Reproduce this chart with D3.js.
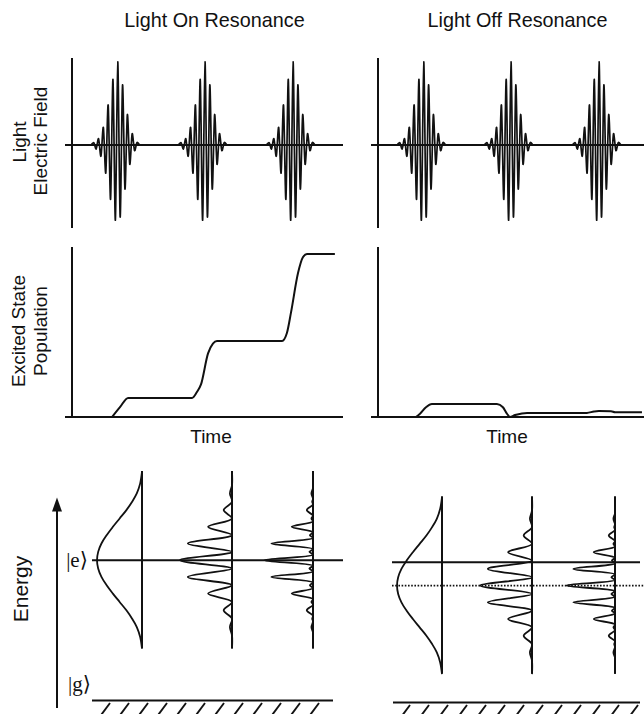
<!DOCTYPE html>
<html><head><meta charset="utf-8">
<script src="https://cdn.jsdelivr.net/npm/d3@7"></script>
<style>body{margin:0;background:#fff}svg{display:block}</style>
</head><body>
<svg id="c" width="644" height="714"></svg>
<script>
// ---------- data ----------
const panelTitles = ["Light On Resonance", "Light Off Resonance"];
const fieldLabel = ["Light", "Electric Field"];
const popLabel = ["Excited State", "Population"];
const timeLabel = "Time";
const energyLabel = "Energy";
const ketE = "|e\u27E9";
const ketG = "|g\u27E9";

// three light pulses (time units 0-100)
const pulseCenters = [16, 48.2, 80.7];
// successive oscillation lobe amplitudes of one pulse (field units, -1..1)
const pulseLobes = [0.03, -0.05, 0.08, -0.14, 0.22, -0.35, 0.5, -0.68, 0.82, -0.94,
                    1.04, -0.9, 0.75, -0.55, 0.38, -0.24, 0.14, -0.07, 0.03];
const lobeStep = 0.885;

// excited-state population vs time
const popOnT = [14.8, 17.7, 20.7, 44.3, 46.1, 47.6, 50.2, 52.0, 53.5, 77.5, 79.3, 80.8, 83.4, 85.2, 86.7, 97];
const popOnV = [0, 0.06, 0.117, 0.117, 0.153, 0.2, 0.39, 0.45, 0.466, 0.466, 0.515, 0.64, 0.883, 0.98, 1.0, 1.0];
const popOffT = [14.0, 15.5, 17.7, 19.9, 43.9, 46.1, 47.6, 48.7, 50.6, 53.1, 55.0, 77.1, 79.7, 81.5, 86.0, 87.5, 97.4];
const popOffV = [0, 0.02, 0.06, 0.08, 0.08, 0.06, 0.02, 0, 0.012, 0.022, 0.025, 0.025, 0.034, 0.037, 0.036, 0.029, 0.029];

// energy levels (energy units) and light centre energy per panel
const levelE = 8.4, levelG = 0;
const lightEnergy = [8.4, 7.0];

// spectra: offset from light centre energy, relative amplitude
const gaussOff = [-5.3, -4.6, -4.0, -3.5, -3.0, -2.5, -2.0, -1.5, -1.0, -0.5, 0, 0.5, 1.0, 1.5, 2.0, 2.5, 3.0, 3.5, 4.0, 4.6, 5.3];
const gaussVal = [0, 0.035, 0.1, 0.19, 0.3, 0.43, 0.56, 0.68, 0.78, 0.843, 0.865, 0.843, 0.78, 0.68, 0.56, 0.43, 0.3, 0.19, 0.1, 0.035, 0];
const spec2Off = [-5.3, -4.5, -4, -3.5, -3, -2.5, -2, -1.5, -1, -0.5, 0, 0.5, 1, 1.5, 2, 2.5, 3, 3.5, 4, 4.5, 5.3];
const spec2Val = [0, 0, 0.04, 0, 0.16, 0, 0.46, 0, 0.85, 0, 1.0, 0, 0.85, 0, 0.46, 0, 0.16, 0, 0.04, 0, 0];
const spec3Off = [-5.3, -4.6, -4.33, -4, -3.67, -3.5, -3.33, -3, -2.67, -2.5, -2.33, -2, -1.67, -1.5, -1.33, -1, -0.67, -0.5, -0.33, 0,
                  0.33, 0.5, 0.67, 1, 1.33, 1.5, 1.67, 2, 2.33, 2.5, 2.67, 3, 3.33, 3.5, 3.67, 4, 4.33, 4.6, 5.3];
const spec3Val = [0, 0, 0, 0.03, 0, 0.015, 0, 0.12, 0, 0.03, 0, 0.41, 0, 0.06, 0, 0.8, 0, 0.07, 0, 0.94,
                  0, 0.07, 0, 0.8, 0, 0.06, 0, 0.41, 0, 0.03, 0, 0.12, 0, 0.015, 0, 0.03, 0, 0, 0];

// ---------- layout ----------
const INK = "#111";
const FONT = "'Liberation Sans', Arial, Helvetica, sans-serif";
const SERIF = "'Liberation Serif', 'DejaVu Serif', serif";
const svg = d3.select("#c");

const xT = d3.scaleLinear().domain([0, 100]).range([0, 271]);
const yField = d3.scaleLinear().domain([-1, 1]).range([225, 65]);
const yPop = d3.scaleLinear().domain([0, 1]).range([417, 254]);
const yEn = d3.scaleLinear().domain([0, 10]).range([700.5, 533.5]);
const xAmp = d3.scaleLinear().domain([0, 1]).range([0, 52]);

const panels = [
  {x0: 72, title: panelTitles[0], titleX: 142.5, timeX: 139, popT: popOnT, popV: popOnV, lightE: lightEnergy[0],
   cols: [70, 160, 241], eLine: [20, 271], dotted: false, dy: 0, ground: [20, 261], hatch0: 38},
  {x0: 378, title: panelTitles[1], titleX: 139.5, timeX: 129, popT: popOffT, popV: popOffV, lightE: lightEnergy[1],
   cols: [64, 154, 237], eLine: [14, 262], dotted: true, dy: 2, ground: [15, 262], hatch0: 32}
];
const spectra = [[gaussOff, gaussVal], [spec2Off, spec2Val], [spec3Off, spec3Val]];

function line(g, x1, y1, x2, y2, w = 2) {
  g.append("line").attr("x1", x1).attr("y1", y1).attr("x2", x2).attr("y2", y2)
    .attr("stroke", INK).attr("stroke-width", w);
}

panels.forEach((p, pi) => {
  const g = svg.append("g").attr("transform", `translate(${p.x0},0)`);
  // title
  g.append("text").attr("x", p.titleX).attr("y", 27).attr("text-anchor", "middle")
    .attr("font-family", FONT).attr("font-size", 19.8).attr("fill", INK).text(p.title);

  // --- top: light electric field
  line(g, 0, 58, 0, 228);
  line(g, -7, yField(0), xT(100), yField(0));
  const fieldLine = d3.line().x(d => xT(d[0])).y(d => yField(d[1])).curve(d3.curveCardinal.tension(0.2));
  pulseCenters.forEach(c => {
    const n = pulseLobes.length, mid = (n - 1) / 2;
    const pts = [[c - (mid + 2.5) * lobeStep, 0], [c - (mid + 1.2) * lobeStep, 0]];
    pulseLobes.forEach((a, i) => pts.push([c + (i - mid) * lobeStep, a]));
    pts.push([c + (mid + 1.2) * lobeStep, 0], [c + (mid + 2.5) * lobeStep, 0]);
    g.append("path").attr("d", fieldLine(pts)).attr("fill", "none").attr("stroke", INK).attr("stroke-width", 1.7);
  });

  // --- middle: population
  line(g, 0, 247, 0, yPop(0));
  line(g, -7, yPop(0), xT(100), yPop(0));
  const popLine = d3.line().x(d => xT(d[0])).y(d => yPop(d[1])).curve(d3.curveMonotoneX);
  g.append("path").attr("d", popLine(p.popT.map((t, i) => [t, p.popV[i]])))
    .attr("fill", "none").attr("stroke", INK).attr("stroke-width", 2);
  g.append("text").attr("x", p.timeX).attr("y", 443).attr("text-anchor", "middle")
    .attr("font-family", FONT).attr("font-size", 19).attr("fill", INK).text(timeLabel);

  // --- bottom: energy diagram
  const b = g.append("g").attr("transform", `translate(0,${p.dy})`);
  line(b, p.eLine[0], yEn(levelE), p.eLine[1], yEn(levelE));
  if (p.dotted) {
    b.append("line").attr("x1", p.eLine[0]).attr("x2", 266)
      .attr("y1", yEn(p.lightE)).attr("y2", yEn(p.lightE))
      .attr("stroke", INK).attr("stroke-width", 1.6).attr("stroke-dasharray", "1.6,1.6");
  }
  spectra.forEach((s, si) => {
    const cx = p.cols[si];
    line(b, cx, yEn(p.lightE + 5.35), cx, yEn(p.lightE - 5.25));
    const sl = d3.line().x(d => cx - xAmp(d[1])).y(d => yEn(p.lightE + d[0])).curve(d3.curveCatmullRom);
    b.append("path").attr("d", sl(s[0].map((o, i) => [o, s[1][i]])))
      .attr("fill", "none").attr("stroke", INK).attr("stroke-width", 1.8);
  });
  // ground level with hatching
  line(b, p.ground[0], yEn(levelG), p.ground[1], yEn(levelG));
  d3.range(p.hatch0, p.ground[1] + 2, 19).forEach(hx => {
    line(b, hx, yEn(levelG) + 2.5, hx - 10, yEn(levelG) + 16, 1.9);
  });

  if (pi === 0) {
    // y labels
    const lab = (txt, x, y, fs) => svg.append("text").attr("transform", `translate(${x},${y}) rotate(-90)`)
      .attr("text-anchor", "middle").attr("font-family", FONT).attr("font-size", fs).attr("fill", INK).text(txt);
    lab(fieldLabel[0], 26, 142, 19);
    lab(fieldLabel[1], 47, 141, 19);
    lab(popLabel[0], 25, 331, 19);
    lab(popLabel[1], 47, 331, 19);
    lab(energyLabel, 28, 589, 21);
    // energy arrow
    const ax = -15;
    line(g, ax, yEn(-0.45), ax, yEn(11.5));
    const tip = yEn(12.15);
    g.append("path").attr("d", `M${ax},${tip}L${ax - 5},${tip + 14}L${ax + 5},${tip + 14}Z`).attr("fill", INK);
    // kets
    g.append("text").attr("x", 5).attr("y", yEn(levelE) + 6.5).attr("text-anchor", "middle")
      .attr("font-family", SERIF).attr("font-size", 21).attr("fill", INK).text(ketE);
    g.append("text").attr("x", 7.5).attr("y", yEn(levelG) - 9.5).attr("text-anchor", "middle")
      .attr("font-family", SERIF).attr("font-size", 21).attr("fill", INK).text(ketG);
  }
});
</script>
</body></html>
